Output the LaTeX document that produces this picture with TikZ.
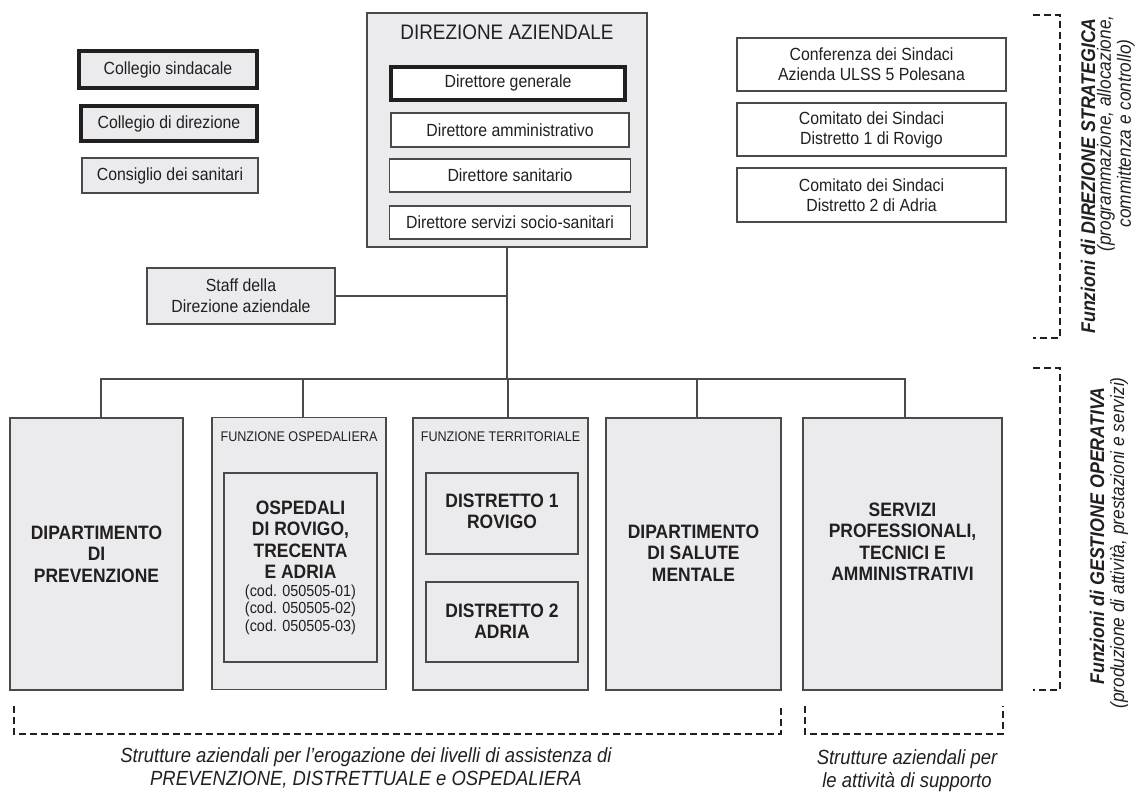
\documentclass[tikz,border=0pt]{standalone}
\usepackage{fontspec}
\setmainfont{Liberation Sans}[FakeStretch=0.9]
\newcommand\fsz[2]{\fontsize{#1}{#2}\selectfont}
\definecolor{boxgray}{HTML}{EBEBED}
\definecolor{edge}{HTML}{4A4A4A}
\definecolor{ink}{HTML}{231F20}
\tikzset{
  box/.style={draw=edge, line width=1.2pt, fill=boxgray, inner sep=0pt, align=center, text=ink, font=\fsz{17.6}{20}},
  wbox/.style={box, fill=white},
  heavy/.style={draw=ink, line width=4pt},
  conn/.style={draw=edge, line width=1.2pt},
  brk/.style={draw=ink, line width=1.3pt, dash pattern=on 7pt off 4pt},
  bigtxt/.style={text=ink, align=center, inner sep=0pt, font=\bfseries\fsz{19.4}{21.5}},
  labtxt/.style={text=ink, align=center, inner sep=0pt, font=\fsz{14}{15}},
  sidebold/.style={text=ink, rotate=90, inner sep=0pt, font=\bfseries\itshape\fsz{19.8}{22}},
  sideit/.style={text=ink, rotate=90, inner sep=0pt, align=center, font=\itshape\fsz{19.2}{20}},
  bottxt/.style={text=ink, align=center, inner sep=0pt, font=\itshape\fsz{20.5}{23}}
}
\begin{document}
\begin{tikzpicture}[x=1pt,y=-1pt]
\useasboundingbox (0,0) rectangle (1137,793);

% Direzione aziendale
\node[box, minimum width=280, minimum height=234] (dir) at (507,130) {};
\node[text=ink, inner sep=0pt, font=\fsz{21}{23}] (dirt) at (507,32) {DIREZIONE AZIENDALE};
\node[wbox, heavy, minimum width=234, minimum height=33] (dg) at (508,83) {Direttore generale};
\node[wbox, minimum width=238, minimum height=34] (da) at (510,130) {Direttore amministrativo};
\node[wbox, minimum width=241, minimum height=33] (ds) at (510,175.5) {Direttore sanitario};
\node[wbox, minimum width=241, minimum height=33] (dss) at (510,222.5) {Direttore servizi socio-sanitari};

% left boxes
\node[box, heavy, minimum width=178, minimum height=37] (cs) at (168,69.5) {Collegio sindacale};
\node[box, heavy, minimum width=176, minimum height=35] (cd) at (169,123.5) {Collegio di direzione};
\node[box, minimum width=176, minimum height=35] (csan) at (170,175.5) {Consiglio dei sanitari};

% right boxes
\node[wbox, minimum width=269, minimum height=53] (conf) at (871.5,64.5) {Conferenza dei Sindaci\\Azienda ULSS 5 Polesana};
\node[wbox, minimum width=269, minimum height=53] (com1) at (871.5,129.5) {Comitato dei Sindaci\\Distretto 1 di Rovigo};
\node[wbox, minimum width=269, minimum height=54] (com2) at (871.5,195) {Comitato dei Sindaci\\Distretto 2 di Adria};

% staff
\node[box, minimum width=188, minimum height=56, font=\fsz{17.6}{21}] (staff) at (241,296) {Staff della\\Direzione aziendale};

% bottom row
\node[box, minimum width=173, minimum height=272] (prev) at (96.5,554) {};
\node[bigtxt] (prevt) at (96.5,554) {DIPARTIMENTO\\DI\\PREVENZIONE};

\node[box, minimum width=174, minimum height=272] (osp) at (299,553.5) {};
\node[labtxt] (ospl) at (299,437) {FUNZIONE OSPEDALIERA};
\node[box, minimum width=153, minimum height=189] (ospin) at (300.5,567.5) {};
\node[bigtxt] (ospt) at (300.5,539.5) {OSPEDALI\\DI ROVIGO,\\TRECENTA\\E ADRIA};
\node[text=ink, align=center, inner sep=0pt, font=\fsz{16}{17.5}] (ospc) at (300.5,609.5) {(cod. 050505-01)\\(cod. 050505-02)\\(cod. 050505-03)};

\node[box, minimum width=175, minimum height=272] (terr) at (500.5,554) {};
\node[labtxt] (terrl) at (500.5,437) {FUNZIONE TERRITORIALE};
\node[box, minimum width=152, minimum height=81] (d1) at (502,513.5) {};
\node[bigtxt] (d1t) at (502,511.5) {DISTRETTO 1\\ROVIGO};
\node[box, minimum width=152, minimum height=80] (d2) at (502,622) {};
\node[bigtxt] (d2t) at (502,621) {DISTRETTO 2\\ADRIA};

\node[box, minimum width=175, minimum height=272] (sal) at (693.5,554) {};
\node[bigtxt] (salt) at (693.5,553) {DIPARTIMENTO\\DI SALUTE\\MENTALE};

\node[box, minimum width=199, minimum height=272] (serv) at (902.5,554) {};
\node[bigtxt] (servt) at (902.5,542) {SERVIZI\\PROFESSIONALI,\\TECNICI E\\AMMINISTRATIVI};

% connectors
\coordinate (bus) at (508,379);
\draw[conn] (dir.south) -- (dir.south |- bus);
\draw[conn] (staff.east) -- (staff.east -| dir.south);
\draw[conn] ([xshift=4.5pt]prev.north) |- (bus);
\draw[conn] ([xshift=4pt]osp.north) |- (bus);
\draw[conn] ([xshift=7.5pt]terr.north) |- (bus);
\draw[conn] ([xshift=3.5pt]sal.north) |- (bus);
\draw[conn] ([xshift=2.5pt]serv.north) |- (bus);

% bottom brackets
\draw[brk] (14,706) |- (781,734) -- (781,706);
\draw[brk] (805,706) |- (1003,734) -- (1003,706);
\node[bottxt] (botl) at (366,768) {Strutture aziendali per l'erogazione dei livelli di assistenza di\\PREVENZIONE, DISTRETTUALE e OSPEDALIERA};
\node[bottxt] (botr) at (907,771) {Strutture aziendali per\\le attività di supporto};

% side brackets
\draw[brk] (1033,15) -| (1060,338) -- (1033,338);
\draw[brk] (1033,368) -| (1060,690) -- (1033,690);
\node[sidebold] (s1a) at (1088,176) {Funzioni di DIREZIONE STRATEGICA};
\node[sideit] (s1b) at (1116,133.5) {(programmazione, allocazione,\\committenza e controllo)};
\node[sidebold] (s2a) at (1097,536) {Funzioni di GESTIONE OPERATIVA};
\node[sideit] (s2b) at (1119,543) {(produzione di attività, prestazioni e servizi)};
\end{tikzpicture}
\end{document}
